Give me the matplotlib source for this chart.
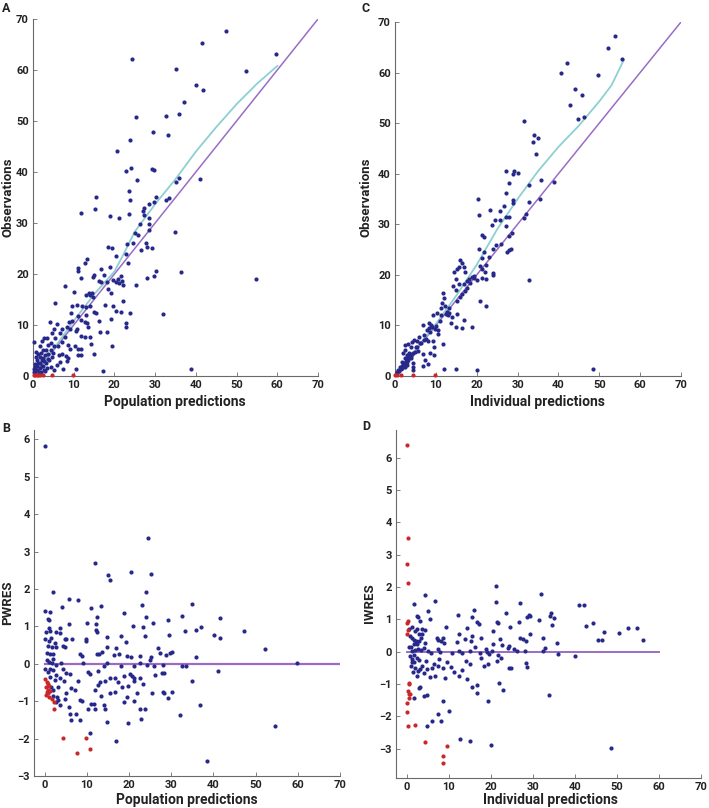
import numpy as np
import matplotlib
matplotlib.use('Agg')
from matplotlib import pyplot as plt

# ---- data ----
# panel A: observations vs population predictions
a_blue = [(47.3,67.6),(41.6,65.2),(24.3,62.2),(59.8,63.1),(35.1,60.1),(52.3,59.9),(40.0,57.1),(41.7,56.0),
          (37.1,53.8),(35.9,51.3),(32.7,50.9),(25.2,50.7),(29.4,47.9),(33.2,47.2),(23.9,46.3),(20.6,44.1),
          (24.0,40.7),(29.2,40.6),(29.6,40.3),(22.9,40.1),(41.0,38.6),(35.9,38.8),(35.2,38.0),(25.5,38.4),
          (15.5,35.1),(30.1,35.0),(33.5,34.9),(23.5,36.2),(23.8,34.5),(32.7,34.5),(29.6,34.2),(15.2,32.8),
          (11.9,32.0),(19.0,31.4),(21.1,31.0),(23.5,31.7),(27.3,33.0),(27.0,32.4),(28.6,33.7),(27.2,31.5),
          (26.2,29.9),(28.5,29.9),(28.6,30.9),(25.1,28.0),(25.7,27.7),(24.6,26.1),(34.9,28.3),(28.4,28.6),
          (23.0,25.9),(27.8,26.1),(26.5,24.7),(28.0,25.3),(29.2,25.0),(18.3,25.2),(19.4,25.0),(22.8,23.9),
          (20.5,23.5),(36.4,20.3),(54.8,19.0),(27.9,19.2),(29.7,19.6),(30.1,20.5),(23.4,22.1),(25.3,17.8),
          (11.0,21.2),(11.9,19.3),(11.1,20.5),(13.2,22.9),(12.7,22.1),(14.9,19.8),(14.8,19.5),(16.8,20.9),
          (18.9,21.4),(17.5,19.8),(18.2,18.5),(16.8,18.4),(16.3,18.7),(19.6,18.9),(20.4,18.5),(20.8,19.0),
          (21.1,18.2),(21.7,19.7),(21.9,18.7),(22.2,17.8),(19.1,16.3),(18.3,17.0),(13.8,16.3),(14.1,15.8),
          (14.6,16.3),(12.9,15.8),(14.8,15.4),(10.1,16.4),(7.9,17.7),(5.5,14.3),(10.8,13.9),(12.1,13.8),
          (13.1,13.5),(13.9,13.8),(15.0,12.6),(15.4,12.3),(17.6,13.9),(19.6,13.8),(20.5,12.8),(21.5,12.6),
          (22.1,14.8),(23.9,12.4),(31.9,12.1),(9.6,13.7),(9.4,12.3),(8.8,10.5),(9.7,10.8),(11.1,11.8),
          (11.9,11.0),(12.9,12.0),(12.7,10.5),(13.2,10.3),(13.4,9.7),(16.2,10.8),(16.5,8.6),(18.1,8.7),
          (19.1,11.1),(22.8,10.4),(22.9,9.6),(19.3,5.9),(14.9,4.4),(4.1,10.5),(5.8,10.2),(5.2,9.3),
          (7.1,9.3),(8.3,9.7),(9.2,9.3),(10.8,9.2),(10.5,8.8),(11.9,7.8),(12.7,7.7),(14.1,7.7),
          (14.3,6.3),(8.7,6.1),(7.8,7.6),(7.1,6.7),(9.0,5.2),(10.2,5.8),(11.1,5.2),(11.9,5.2),
          (11.0,4.1),(11.9,4.1),(10.6,1.4),(17.3,1.0),(38.7,1.3),(7.4,1.4),(8.4,2.9),(8.7,3.5),
          (6.3,4.2),(5.1,5.8),(6.1,5.9),(4.4,5.1),(3.6,6.1),(3.4,7.4),(2.6,7.4),(2.1,6.8),
          (0.2,6.7),(1.6,5.8),(2.4,5.1),(3.1,5.1),(3.8,4.4),(4.7,3.8),(3.9,3.1),(3.3,2.5),
          (2.5,2.0),(1.8,2.5),(1.1,3.1),(0.8,3.8),(0.6,1.8),(1.0,1.2),(1.6,1.5),(2.6,1.2),
          (3.4,1.5),(4.3,1.8),(5.1,1.2),(5.9,2.2),(6.7,2.8),(7.2,4.4),(8.0,3.9),(0.2,0.8),
          (0.5,0.5),(1.4,0.7),(2.0,0.8),(1.2,4.4),(1.6,3.8),(2.4,3.5),(2.9,4.1),(4.3,6.4),
          (5.5,7.4),(6.6,8.4),(4.7,8.4),(0.4,2.4),(0.9,2.0),(1.3,2.6),(2.1,3.2),(0.7,4.8),
          (1.9,4.6),(2.8,2.9),(3.0,1.0),(0.3,1.4),(1.5,0.3),(2.2,1.9),(3.6,3.3),(4.8,4.6)]
a_red = [(0.2,0.1),(0.5,0.1),(0.9,0.1),(1.3,0.1),(1.8,0.1),(2.5,0.1),(4.6,0.1),(9.9,0.2)]
a_smooth_x = [0, 5, 10, 15, 20, 22, 25, 30, 35, 40, 45, 50, 55, 60]
a_smooth_y = [0, 5.2, 10.8, 16.0, 20.5, 23.5, 28.3, 33.7, 38.6, 44.0, 48.8, 53.3, 57.3, 60.8]

# panel C: observations vs individual predictions
c_blue = [(53.8,67.3),(52.2,64.8),(55.6,62.7),(42.2,61.8),(40.7,59.9),(49.8,59.6),(44.1,56.8),(45.7,55.6),
          (42.8,53.5),(46.3,51.2),(44.8,50.8),(31.5,50.4),(33.9,47.7),(35.0,47.1),(33.7,46.2),(34.6,43.8),
          (35.7,38.7),(38.9,38.4),(29.2,40.5),(30.1,40.2),(29.0,40.0),(27.1,40.5),(27.9,38.2),(27.2,36.1),
          (32.9,37.8),(20.4,35.0),(35.5,35.0),(28.8,34.8),(28.8,34.3),(32.7,34.4),(32.0,32.1),(31.6,31.3),
          (20.6,31.8),(23.3,32.8),(25.8,32.7),(26.6,33.6),(24.5,30.9),(25.8,30.8),(23.7,29.9),(27.1,31.4),
          (27.8,31.5),(27.2,29.7),(27.9,27.6),(28.6,28.2),(21.4,27.8),(21.7,27.5),(25.9,26.2),(24.8,25.9),
          (27.9,25.0),(28.3,25.1),(27.4,24.6),(24.1,25.2),(20.5,25.2),(21.9,24.6),(22.9,23.6),(21.3,23.4),
          (22.3,21.9),(20.8,21.8),(21.2,21.2),(22.1,20.5),(21.2,19.4),(22.2,19.1),(24.0,19.9),(24.1,20.3),
          (32.9,19.0),(15.9,22.9),(16.5,22.3),(15.7,21.6),(17.0,21.6),(17.2,20.6),(15.2,21.1),(14.5,20.5),
          (15.0,19.2),(14.3,17.8),(14.9,17.1),(15.7,18.2),(16.8,18.1),(17.6,18.7),(18.1,19.2),(18.8,19.6),
          (19.3,19.8),(19.4,19.3),(20.0,19.0),(18.4,18.3),(17.7,17.4),(17.2,16.9),(16.5,16.3),(15.9,15.7),
          (15.1,14.8),(20.9,14.8),(22.3,13.8),(11.8,16.5),(12.1,15.5),(11.6,14.4),(12.3,13.8),(13.1,13.4),
          (12.7,12.7),(13.3,12.4),(11.3,13.4),(10.4,12.4),(11.3,12.0),(14.0,11.7),(13.8,10.5),(15.1,12.2),
          (15.0,9.7),(16.5,9.5),(17.0,11.1),(18.9,9.7),(9.2,12.0),(8.2,10.5),(8.9,10.1),(8.2,9.4),
          (7.8,9.0),(9.8,9.2),(10.5,8.4),(10.6,9.1),(7.0,8.1),(5.9,7.8),(6.8,10.1),(4.7,7.1),
          (5.3,6.9),(4.1,6.8),(3.3,6.3),(3.9,5.7),(5.1,5.8),(5.7,5.0),(6.1,6.5),(7.2,7.1),
          (8.0,7.0),(9.2,7.0),(9.5,5.8),(8.5,4.6),(6.9,4.3),(9.6,4.1),(11.7,6.3),(7.3,3.2),
          (6.9,2.0),(8.0,2.4),(2.5,5.1),(2.0,4.5),(2.9,4.1),(3.4,4.5),(2.5,3.5),(3.3,3.2),
          (3.9,3.5),(1.6,2.8),(2.0,2.2),(2.9,2.2),(1.2,1.8),(0.8,1.2),(0.4,0.7),(1.6,1.5),
          (2.5,1.8),(4.5,2.5),(4.9,4.8),(4.5,1.8),(4.5,1.1),(12.1,1.3),(14.9,1.3),(20.0,1.1),
          (48.5,1.3),(2.5,6.1),(1.8,2.0),(2.2,2.6),(2.7,3.0),(3.1,3.6),(3.6,3.9),(4.2,4.3),
          (1.0,1.0),(1.4,1.3),(0.6,0.5),(2.3,2.4),(3.0,2.8),(3.8,4.0),(4.4,4.6),(5.5,5.7),
          (6.3,6.6),(7.6,7.4),(8.6,8.7),(9.0,9.6),(10.1,9.9),(11.0,10.8),(12.5,12.2),(13.0,12.0)]
c_red = [(0.1,0.1),(0.5,0.1),(1.5,0.1),(4.3,0.1),(9.8,0.2)]
c_smooth_x = [0, 5, 10, 15, 20, 25, 30, 35, 40, 45, 50, 53, 56]
c_smooth_y = [0, 5.2, 10.3, 15.9, 22.0, 29.0, 35.0, 40.5, 45.3, 49.5, 54.3, 57.5, 62.5]

# panel B: PWRES vs population predictions
b_blue = [(0.2,5.83),(24.4,3.35),(11.9,2.70),(20.5,2.45),(15.1,2.37),(25.3,2.39),(15.4,2.25),(2.1,1.92),
          (24.0,1.92),(5.8,1.72),(7.9,1.70),(35.0,1.59),(23.2,1.58),(13.3,1.54),(11.1,1.48),(4.1,1.51),
          (0.2,1.41),(1.3,1.38),(18.9,1.37),(32.6,1.28),(24.1,1.24),(12.5,1.26),(41.6,1.22),(0.8,1.20),
          (1.1,1.18),(29.3,1.17),(25.6,1.10),(10.0,1.08),(5.9,1.06),(12.1,1.06),(20.9,1.00),(1.1,0.95),
          (3.6,0.96),(23.4,0.99),(37.1,0.99),(1.3,0.88),(36.0,0.90),(47.3,0.88),(33.2,0.88),(12.3,0.91),
          (12.5,0.84),(2.7,0.86),(3.7,0.82),(40.1,0.78),(18.2,0.75),(29.4,0.76),(23.8,0.75),(14.7,0.72),
          (41.5,0.70),(0.0,0.66),(6.6,0.65),(4.8,0.67),(5.2,0.65),(9.8,0.61),(19.4,0.58),(1.0,0.60),
          (9.9,0.67),(2.8,0.45),(4.4,0.47),(4.8,0.45),(1.7,0.45),(14.8,0.45),(0.8,0.47),(16.9,0.41),
          (52.2,0.39),(26.8,0.43),(13.7,0.32),(27.3,0.30),(29.8,0.30),(30.2,0.32),(1.3,0.27),(2.1,0.25),
          (12.4,0.26),(12.8,0.27),(8.4,0.26),(8.8,0.20),(16.4,0.24),(17.6,0.26),(22.6,0.22),(25.2,0.18),
          (28.7,0.23),(19.6,0.20),(20.5,0.19),(25.1,0.11),(36.0,0.17),(0.5,0.10),(1.1,0.04),(1.7,0.01),
          (2.8,-0.04),(4.0,0.01),(9.0,0.01),(14.0,-0.05),(14.7,0.01),(18.2,-0.05),(59.7,0.03),(33.6,-0.05),
          (32.6,-0.06),(22.5,0.01),(24.2,-0.02),(21.1,-0.05),(26.0,-0.06),(28.0,-0.02),(0.2,-0.14),(1.3,-0.14),
          (0.9,-0.22),(2.1,-0.17),(4.4,-0.14),(5.2,-0.24),(6.0,-0.26),(10.2,-0.22),(10.7,-0.26),(12.7,-0.20),
          (15.5,-0.37),(16.6,-0.37),(18.8,-0.33),(20.8,-0.32),(21.3,-0.38),(20.2,-0.26),(21.3,-0.47),(22.5,-0.37),
          (27.8,-0.24),(28.3,-0.24),(26.2,-0.29),(41.1,-0.20),(35.0,-0.46),(1.3,-0.35),(2.7,-0.31),(2.4,-0.44),
          (3.6,-0.38),(4.7,-0.46),(8.0,-0.47),(13.1,-0.49),(14.3,-0.46),(17.4,-0.48),(18.4,-0.62),(19.7,-0.60),
          (23.4,-0.55),(1.5,-0.62),(2.1,-0.69),(3.2,-0.62),(6.2,-0.66),(7.2,-0.71),(11.9,-0.69),(12.7,-0.57),
          (15.5,-0.78),(16.7,-0.76),(22.0,-0.77),(28.0,-0.76),(28.3,-0.77),(29.3,-0.91),(30.1,-0.75),(25.5,-0.77),
          (2.1,-0.87),(3.0,-0.88),(3.3,-0.97),(4.8,-0.93),(5.0,-0.79),(8.4,-0.97),(8.8,-0.99),(13.4,-0.85),
          (19.5,-0.88),(18.9,-1.01),(21.2,-0.99),(2.6,-1.02),(3.6,-1.11),(5.7,-1.15),(11.1,-1.08),(11.7,-1.08),
          (10.3,-1.20),(12.0,-1.20),(14.1,-1.11),(14.4,-1.22),(22.7,-1.20),(23.9,-1.20),(36.9,-1.09),(6.0,-1.33),
          (7.4,-1.35),(32.0,-1.37),(6.2,-1.51),(8.4,-1.51),(14.8,-1.56),(19.7,-1.57),(22.8,-1.48),(10.7,-1.85),
          (17.0,-2.07),(54.6,-1.67),(38.6,-2.61),(0.6,0.30),(1.9,0.12),(0.4,0.85),(1.6,0.70),(2.4,0.55)]
b_red = [(0.2,-0.42),(0.5,-0.48),(0.7,-0.55),(0.3,-0.62),(0.9,-0.69),(0.5,-0.75),(0.7,-0.79),(0.3,-0.84),
         (1.0,-0.88),(1.7,-0.95),(2.2,-1.02),(2.3,-1.20),(4.4,-1.98),(9.9,-1.98),(7.7,-2.38),(10.7,-2.27),
         (1.3,-0.72),(1.1,-0.59)]

# panel D: IWRES vs individual predictions
d_blue = [(21.1,2.03),(31.9,1.77),(4.2,1.75),(1.7,1.48),(6.6,1.56),(21.2,1.54),(27.0,1.52),(40.9,1.43),
          (42.1,1.44),(5.1,1.27),(16.0,1.29),(23.5,1.21),(34.2,1.21),(34.1,1.10),(35.0,1.05),(5.5,1.02),
          (2.5,1.11),(2.6,1.06),(3.2,0.96),(12.1,1.13),(15.4,1.08),(16.6,0.92),(17.2,0.87),(21.4,0.92),
          (21.6,0.88),(29.0,1.12),(29.4,1.11),(26.7,0.92),(28.5,1.08),(31.4,0.98),(34.5,0.83),(42.7,0.78),
          (44.2,0.89),(46.8,0.60),(50.4,0.58),(52.7,0.72),(54.7,0.72),(56.1,0.36),(45.6,0.35),(46.4,0.35),
          (1.2,0.75),(2.3,0.70),(3.6,0.71),(4.4,0.67),(2.0,0.64),(2.8,0.55),(3.5,0.55),(0.6,0.70),
          (0.7,0.49),(1.3,0.42),(1.7,0.36),(2.1,0.32),(3.4,0.42),(4.2,0.26),(7.1,0.42),(7.5,0.36),
          (9.3,0.75),(8.6,0.44),(8.2,0.32),(8.8,0.26),(12.4,0.55),(13.9,0.38),(15.3,0.32),(15.5,0.48),
          (14.4,0.73),(12.0,0.30),(16.2,0.16),(17.6,0.44),(18.8,0.08),(20.5,0.24),(20.4,0.65),(22.2,0.40),
          (22.6,0.21),(24.0,0.13),(24.4,0.18),(24.5,0.77),(25.6,0.08),(26.2,0.03),(26.9,0.42),(27.7,0.38),
          (28.4,0.34),(28.2,0.01),(29.3,0.55),(32.5,0.42),(32.3,0.01),(32.9,0.13),(35.8,0.26),(36.0,-0.07),
          (39.9,-0.13),(1.3,0.01),(2.0,0.05),(2.6,0.08),(3.3,0.05),(4.0,0.11),(5.1,0.01),(5.8,-0.05),
          (7.3,0.07),(7.9,0.00),(10.7,-0.03),(12.3,0.01),(13.2,-0.03),(15.1,0.01),(17.4,-0.05),(19.0,-0.02),
          (19.6,-0.07),(20.3,0.01),(21.6,-0.11),(22.4,-0.18),(28.3,-0.36),(28.5,-0.47),(0.8,-0.13),(1.3,-0.23),
          (1.8,-0.33),(2.3,-0.18),(2.8,-0.26),(2.0,-0.49),(2.6,-0.59),(3.2,-0.54),(3.6,-0.44),(4.0,-0.67),
          (4.6,-0.28),(4.8,-0.54),(5.9,-0.49),(6.4,-0.38),(7.7,-0.23),(7.5,-0.44),(8.7,-0.49),(9.6,-0.33),
          (10.4,-0.47),(11.3,-0.64),(9.0,-0.80),(6.8,-0.76),(5.5,-0.78),(12.4,-0.75),(13.1,-0.57),(14.0,-0.28),
          (15.1,-0.38),(14.4,-0.85),(15.5,-1.09),(16.7,-1.02),(16.6,-1.28),(17.6,-0.18),(18.3,-0.43),(19.3,-0.38),
          (21.5,-0.28),(21.8,-0.95),(22.8,-1.19),(24.2,-0.51),(24.7,-0.49),(33.7,-1.35),(19.2,-1.52),(1.7,-1.42),
          (2.8,-1.11),(3.2,-1.09),(4.0,-1.37),(4.8,-1.33),(8.6,-1.52),(6.0,-2.14),(7.3,-1.91),(8.1,-2.14),
          (4.8,-2.30),(10.1,-1.83),(12.6,-2.70),(15.1,-2.75),(20.0,-2.88),(48.5,-2.97),(1.2,-0.31),(1.6,-0.10),
          (1.0,0.14),(1.6,0.24),(2.3,0.24),(2.8,0.32),(0.4,0.14),(0.9,-0.45),(1.5,-0.62),(2.4,-0.75)]
d_red = [(0.0,6.38),(0.2,3.51),(0.0,2.71),(0.2,2.12),(0.2,0.96),(0.0,0.88),(0.2,0.67),(0.1,0.55),
         (0.4,-1.00),(0.6,-0.95),(0.2,-1.21),(0.4,-1.29),(0.8,-1.29),(0.4,-1.42),(0.0,-1.57),(0.0,-1.85),
         (0.2,-2.30),(2.0,-2.27),(4.4,-2.78),(9.5,-2.92),(8.5,-3.22),(8.7,-3.43)]

NAVY = '#27288a'
RED = '#c8282c'
PURPLE = '#9a6cc4'
CYAN = '#8dd0d2'
FONT = 'Roboto'

W, H = 709, 808
fig = plt.figure(figsize=(W / 100, H / 100), dpi=100)


def px_axes(left, top, right, bottom):
    # axes box given in pixel coordinates of the reference
    return fig.add_axes([left / W, 1 - bottom / H, (right - left) / W, (bottom - top) / H])


def style(ax, xlim, ylim, xticks, yticks):
    ax.set_xlim(*xlim)
    ax.set_ylim(*ylim)
    ax.set_xticks(xticks)
    ax.set_yticks(yticks)
    ax.set_yticklabels([str(t).replace('-', '\u2212') for t in yticks])
    for s in ['top', 'right']:
        ax.spines[s].set_visible(False)
    for s in ['left', 'bottom']:
        ax.spines[s].set_color('#6a6a6a')
        ax.spines[s].set_linewidth(0.8)
    ax.tick_params(direction='in', length=3, width=0.6, color='#6a6a6a',
                   labelsize=8, labelcolor='#222222', pad=3)
    for lab in ax.get_xticklabels() + ax.get_yticklabels():
        lab.set_fontfamily(FONT)
        lab.set_fontweight('bold')


def dots(ax, pts, color):
    arr = np.array(pts)
    ax.scatter(arr[:, 0], arr[:, 1], s=9, color=color, linewidths=0, zorder=3, clip_on=False)


# panel A
axA = px_axes(33, 19, 318, 376)
axA.plot([0, 70], [0, 70], color=PURPLE, lw=1.1, zorder=2)
axA.plot(a_smooth_x, a_smooth_y, color=CYAN, lw=1.3, zorder=2)
dots(axA, a_blue, NAVY)
dots(axA, a_red, RED)
style(axA, (0, 70), (0, 70), range(0, 71, 10), list(range(0, 71, 10)))

# panel C
axC = px_axes(395, 22, 681, 376)
axC.plot([0, 70], [0, 70], color=PURPLE, lw=1.1, zorder=2)
axC.plot(c_smooth_x, c_smooth_y, color=CYAN, lw=1.3, zorder=2)
dots(axC, c_blue, NAVY)
dots(axC, c_red, RED)
style(axC, (0, 70), (0, 70), range(0, 71, 10), list(range(0, 71, 10)))

# panel B
axB = px_axes(34, 430, 340, 776)
axB.plot([0, 70], [0, 0], color=PURPLE, lw=1.6, zorder=2)
dots(axB, b_blue, NAVY)
dots(axB, b_red, RED)
style(axB, (-2.5, 70), (-3, 6.25), range(0, 71, 10), list(range(-3, 7)))

# panel D
axD = px_axes(396, 430, 701, 778)
axD.plot([0, 60], [0, 0], color=PURPLE, lw=1.4, zorder=2)
dots(axD, d_blue, NAVY)
dots(axD, d_red, RED)
style(axD, (-2.6, 70), (-3.9, 6.85), range(0, 71, 10), list(range(-3, 7)))

# labels
lab = dict(fontfamily=FONT, fontweight='bold', color='#222222')
fig.text(175 / W, 1 - 402 / H, 'Population predictions', ha='center', va='center', fontsize=10, **lab)
fig.text(537 / W, 1 - 402 / H, 'Individual predictions', ha='center', va='center', fontsize=10, **lab)
fig.text(187 / W, 1 - 800 / H, 'Population predictions', ha='center', va='center', fontsize=10, **lab)
fig.text(550 / W, 1 - 800 / H, 'Individual predictions', ha='center', va='center', fontsize=10, **lab)
fig.text(8 / W, 1 - 197 / H, 'Observations', ha='center', va='center', rotation=90, fontsize=9.5, **lab)
fig.text(366 / W, 1 - 197 / H, 'Observations', ha='center', va='center', rotation=90, fontsize=9.5, **lab)
fig.text(8 / W, 1 - 603 / H, 'PWRES', ha='center', va='center', rotation=90, fontsize=9.5, **lab)
fig.text(370 / W, 1 - 603 / H, 'IWRES', ha='center', va='center', rotation=90, fontsize=9.5, **lab)

for letter, x, y in [('A', 2, 8), ('C', 361, 8), ('B', 2, 429), ('D', 362, 427)]:
    fig.text(x / W, 1 - y / H, letter, ha='left', va='center', fontsize=9, **lab)

fig.savefig('out.png', dpi=100)
